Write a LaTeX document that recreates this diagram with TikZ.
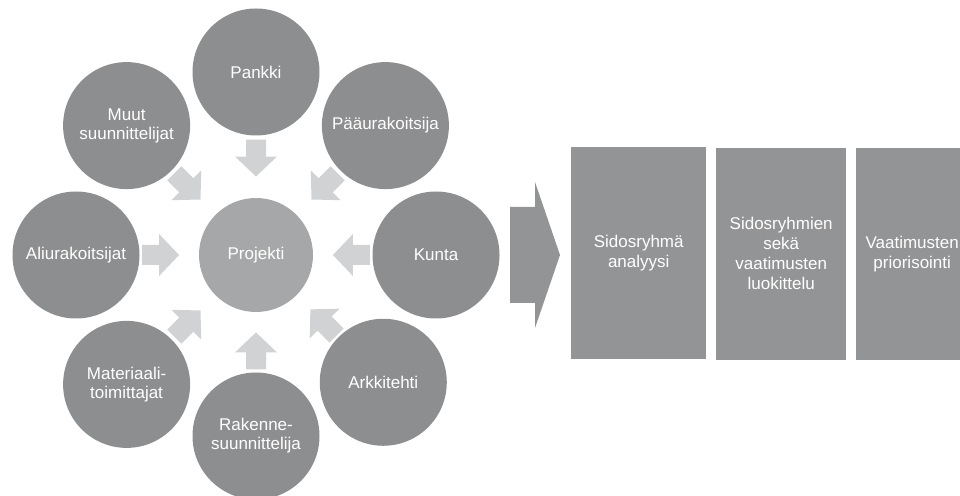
\documentclass[tikz,border=0pt]{standalone}
\usepackage{fontspec}
\setmainfont{Liberation Sans}
\usetikzlibrary{calc}

\definecolor{circlegray}{RGB}{141,142,144}
\definecolor{centergray}{RGB}{166,167,169}
\definecolor{boxgray}{RGB}{147,148,150}
\definecolor{arrowgray}{RGB}{209,210,211}

\tikzset{
  party/.style={circle, fill=circlegray, minimum size=127pt, inner sep=0pt,
    align=center, text=white, font=\fontsize{17}{19}\selectfont},
  hub/.style={circle, fill=centergray, minimum size=114pt, inner sep=0pt,
    align=center, text=white, font=\fontsize{17}{19}\selectfont},
  phase/.style={fill=boxgray, inner sep=0pt, align=center, text=white,
    font=\fontsize{17}{20}\selectfont},
  inflow/.pic={
    \fill[arrowgray] (-18.5,-10) -- (-1.5,-10) -- (-1.5,-21) -- (18.5,0)
      -- (-1.5,21) -- (-1.5,10) -- (-18.5,10) -- cycle;
  },
  feed/.style={pos=0.47, sloped, allow upside down}
}

\begin{document}
\begin{tikzpicture}[x=1pt, y=1pt]
  \useasboundingbox (0,0) rectangle (960,495);

  % stakeholders around the project
  \node[hub] (projekti) at (256,240) {Projekti};
  \node[party] (pankki)   at ($(projekti)+(90:183)$)   {Pankki};
  \node[party] (paaura)   at ($(projekti)+(45:183)$)   {Pääurakoitsija};
  \node[party] (kunta)    at ($(projekti)+(0:180)$)    {Kunta};
  \node[party] (arkki)    at ($(projekti)+(-45:180)$)  {Arkkitehti};
  \node[party] (rakenne)  at ($(projekti)+(-90:181)$)  {Rakenne-\\suunnittelija};
  \node[party] (materia)  at ($(projekti)+(-135:183)$) {Materiaali-\\toimittajat};
  \node[party] (aliura)   at ($(projekti)+(180:180)$)  {Aliurakoitsijat};
  \node[party] (muut)     at ($(projekti)+(135:183)$)  {Muut\\suunnittelijat};

  % block arrows pointing into the project
  \foreach \src in {pankki,paaura,kunta,arkki,rakenne,materia,aliura,muut}
    \path (\src.center) -- (projekti.center) pic[feed] {inflow};

  % large arrow leading to the analysis phases
  \coordinate (bigtip) at (560,240);
  \fill[boxgray] (510,192) -- (535,192) -- (535,167) -- (bigtip)
    -- (535,313) -- (535,288) -- (510,288) -- cycle;

  % analysis phases
  \node[phase, minimum width=135pt, minimum height=212pt, anchor=south west]
    (analyysi) at (571,136) {Sidosryhmä\\analyysi};
  \node[phase, minimum width=130pt, minimum height=212pt, anchor=south west]
    (luokittelu) at (716,135) {Sidosryhmien\\sekä\\vaatimusten\\luokittelu};
  \node[phase, minimum width=112pt, minimum height=212pt, anchor=south west]
    (priorisointi) at (856,135) {Vaatimusten\\priorisointi};
\end{tikzpicture}
\end{document}
